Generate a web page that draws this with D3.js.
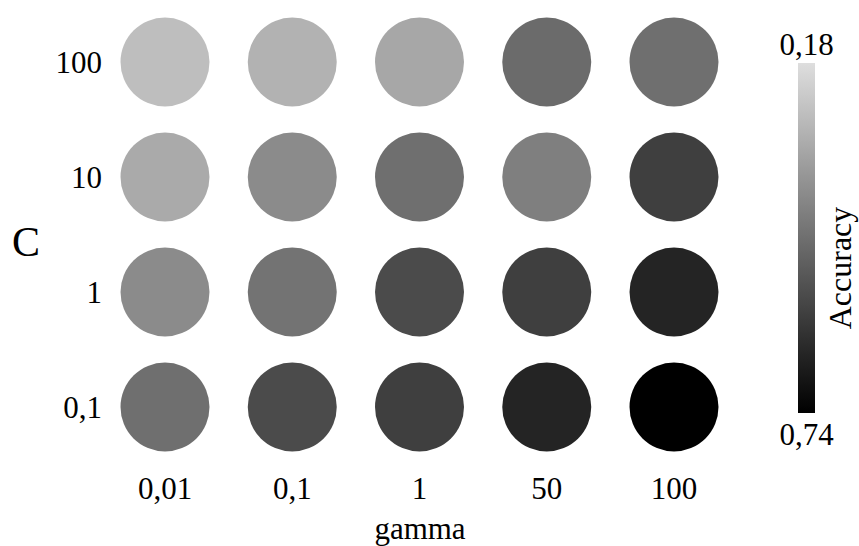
<!DOCTYPE html>
<html>
<head>
<meta charset="utf-8">
<script src="https://cdn.jsdelivr.net/npm/d3@7"></script>
</head>
<body style="margin:0">
<svg id="grid" width="859" height="546"></svg>
<script>
// Grid search results: accuracy for each (C, gamma) pair
const gammaLabels = ["0,01", "0,1", "1", "50", "100"];
const cLabels = ["100", "10", "1", "0,1"];
// one row per C value (top to bottom), one entry per gamma
const accC100 = [0.26, 0.29, 0.32, 0.47, 0.46];
const accC10  = [0.31, 0.39, 0.46, 0.42, 0.58];
const accC1   = [0.39, 0.45, 0.55, 0.58, 0.65];
const accC01  = [0.46, 0.55, 0.58, 0.65, 0.74];
const accRows = [accC100, accC10, accC1, accC01];
const colorDomain = [0.18, 0.74];
const colorTickLabels = ["0,18", "0,74"];

const svg = d3.select("#grid")
  .attr("font-family", "Liberation Serif")
  .style("font-family", "Liberation Serif", "important");

const x = d3.scalePoint().domain(gammaLabels).range([165, 674]);
const y = d3.scalePoint().domain(cLabels).range([62, 407]);
const color = d3.scaleLinear().domain(colorDomain).range(["#dedede", "#000000"]);
const radius = 44.5;

const cells = [];
cLabels.forEach((c, i) => gammaLabels.forEach((g, j) => cells.push({ c, g, v: accRows[i][j] })));

svg.append("g").selectAll("circle")
  .data(cells)
  .join("circle")
  .attr("cx", d => x(d.g))
  .attr("cy", d => y(d.c))
  .attr("r", radius)
  .attr("fill", d => color(d.v));

function label(sel, size) {
  sel.attr("font-family", "Liberation Serif")
    .style("font-family", "Liberation Serif", "important")
    .attr("font-size", size)
    .attr("fill", "#000");
}

// gamma labels under the grid
svg.selectAll("text.gx")
  .data(gammaLabels)
  .join("text")
  .attr("class", "gx")
  .call(label, 31)
  .attr("x", d => x(d))
  .attr("y", 499)
  .attr("text-anchor", "middle")
  .text(d => d);

// C labels left of the grid
svg.selectAll("text.cy")
  .data(cLabels)
  .join("text")
  .attr("class", "cy")
  .call(label, 31)
  .attr("x", 102)
  .attr("y", d => y(d) + 11)
  .attr("text-anchor", "end")
  .text(d => d);

svg.append("text")
  .call(label, 42)
  .attr("x", 26)
  .attr("y", 256)
  .attr("text-anchor", "middle")
  .text("C");

svg.append("text")
  .call(label, 31)
  .attr("x", 420)
  .attr("y", 539)
  .attr("text-anchor", "middle")
  .text("gamma");

// colour bar
const barX = 798, barW = 17, barTop = 63, barBottom = 413;
const defs = svg.append("defs");
const grad = defs.append("linearGradient")
  .attr("id", "accGrad").attr("x1", 0).attr("y1", 0).attr("x2", 0).attr("y2", 1);
d3.range(0, 1.0001, 0.1).forEach(t => {
  grad.append("stop")
    .attr("offset", t)
    .attr("stop-color", color(colorDomain[0] + t * (colorDomain[1] - colorDomain[0])));
});
svg.append("rect")
  .attr("x", barX).attr("y", barTop)
  .attr("width", barW).attr("height", barBottom - barTop)
  .attr("fill", "url(#accGrad)");

svg.append("text")
  .call(label, 31)
  .attr("x", barX + barW / 2)
  .attr("y", 55)
  .attr("text-anchor", "middle")
  .text(colorTickLabels[0]);
svg.append("text")
  .call(label, 31)
  .attr("x", barX + barW / 2)
  .attr("y", 445)
  .attr("text-anchor", "middle")
  .text(colorTickLabels[1]);

svg.append("text")
  .call(label, 32)
  .attr("transform", `translate(851,${(barTop + barBottom) / 2 + 30}) rotate(-90)`)
  .attr("text-anchor", "middle")
  .text("Accuracy");
</script>
</body>
</html>
